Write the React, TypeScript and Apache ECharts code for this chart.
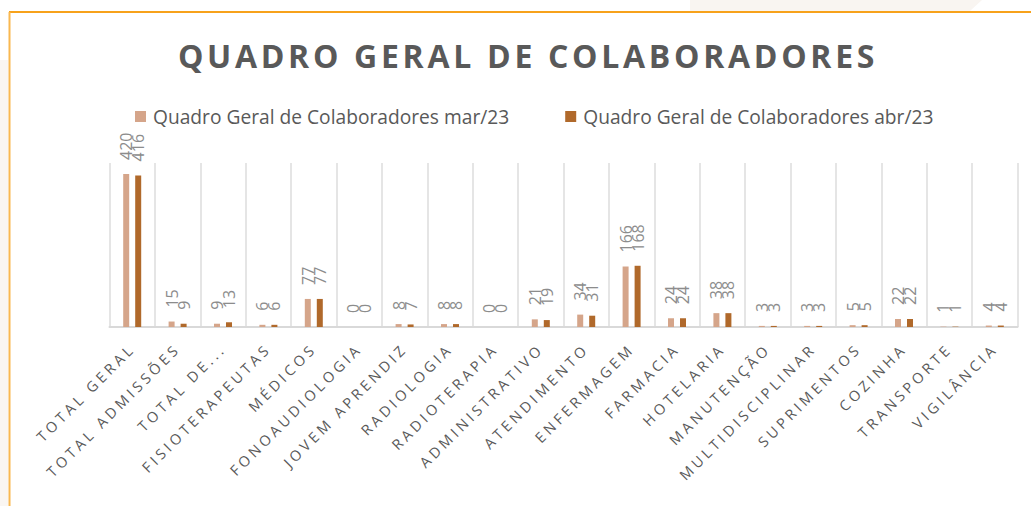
import React, { useEffect, useRef } from "react";
import * as echarts from "echarts";

const categories = [
  "TOTAL GERAL",
  "TOTAL ADMISSÕES",
  "TOTAL DE...",
  "FISIOTERAPEUTAS",
  "MÉDICOS",
  "FONOAUDIOLOGIA",
  "JOVEM APRENDIZ",
  "RADIOLOGIA",
  "RADIOTERAPIA",
  "ADMINISTRATIVO",
  "ATENDIMENTO",
  "ENFERMAGEM",
  "FARMACIA",
  "HOTELARIA",
  "MANUTENÇÃO",
  "MULTIDISCIPLINAR",
  "SUPRIMENTOS",
  "COZINHA",
  "TRANSPORTE",
  "VIGILÂNCIA",
];

const marValues = [420, 15, 9, 6, 77, 0, 8, 8, 0, 21, 34, 166, 24, 38, 3, 3, 5, 22, 1, 4];
const abrValues = [416, 9, 13, 6, 77, 0, 7, 8, 0, 19, 31, 168, 24, 38, 3, 3, 5, 22, 1, 4];

const seriesNames = [
  "Quadro Geral de Colaboradores mar/23",
  "Quadro Geral de Colaboradores abr/23",
];

const titleText = "QUADRO GERAL DE COLABORADORES";

export default function App() {
  const ref = useRef<HTMLDivElement>(null);

  useEffect(() => {
    if (!ref.current) return;
    const chart = echarts.init(ref.current, undefined, { renderer: "svg" });

    const labelStyle = {
      show: true,
      position: "top" as const,
      distance: 14,
      rotate: 90,
      align: "left" as const,
      verticalAlign: "middle" as const,
      fontSize: 16,
      fontFamily: "Open Sans",
      color: "#8c8c8c",
    };

    chart.setOption({
      animation: false,
      backgroundColor: "#ffffff",
      title: {
        text: titleText,
        left: 523,
        top: 34,
        textAlign: "center",
        textStyle: {
          fontFamily: "Open Sans",
          fontSize: 32,
          fontWeight: "bold",
          color: "#595959",
        },
      },
      legend: {
        top: 102,
        left: 130,
        itemWidth: 11,
        itemHeight: 11,
        itemGap: 56,
        icon: "rect",
        textStyle: {
          fontFamily: "Open Sans",
          fontSize: 19.2,
          color: "#595959",
          padding: [0, 0, 0, 2],
        },
        data: seriesNames,
      },
      graphic: [
        {
          type: "polygon",
          shape: { points: [[690, 0], [982, 0], [970, 11], [690, 11]] },
          style: { fill: "#f9f5f1" },
          silent: true,
        },
        {
          type: "rect",
          shape: { x: 0, y: 60, width: 8, height: 446 },
          style: { fill: "#faf6f2" },
          silent: true,
        },
        {
          type: "line",
          shape: { x1: 9, y1: 12, x2: 1031, y2: 12 },
          style: { stroke: "#f7a21b", lineWidth: 2 },
          silent: true,
        },
        {
          type: "line",
          shape: { x1: 9.5, y1: 12, x2: 9.5, y2: 506 },
          style: { stroke: "#f9b850", lineWidth: 2 },
          silent: true,
        },
      ],
      grid: {
        left: 109.5,
        right: 13.5,
        top: 163,
        bottom: 179,
        containLabel: false,
      },
      xAxis: {
        type: "category",
        data: categories,
        boundaryGap: true,
        axisLine: { show: true, lineStyle: { color: "#d9d9d9", width: 2 } },
        axisTick: { show: false },
        splitLine: { show: true, lineStyle: { color: "#dcdcdc", width: 1.5 } },
        axisLabel: {
          interval: 0,
          rotate: 45,
          margin: 19,
          fontFamily: "Open Sans",
          fontSize: 14.5,
          color: "#595959",
        },
      },
      yAxis: {
        type: "value",
        min: 0,
        max: 450,
        show: false,
        splitLine: { show: false },
      },
      series: [
        {
          name: seriesNames[0],
          type: "bar",
          data: marValues,
          barWidth: 6,
          barGap: "100%",
          itemStyle: { color: "#d5a58a" },
          label: labelStyle,
        },
        {
          name: seriesNames[1],
          type: "bar",
          data: abrValues,
          barWidth: 6,
          barGap: "100%",
          itemStyle: { color: "#b0692b" },
          label: labelStyle,
        },
      ],
    });

    return () => {
      chart.dispose();
    };
  }, []);

  return (
    <>
      <style>{`
        #qgc-chart text[style*="14.5px"] { letter-spacing: 3.6px; }
        #qgc-chart text[style*="32px"] { letter-spacing: 3.7px; }
      `}</style>
      <div
        id="qgc-chart"
        ref={ref}
        style={{ position: "absolute", left: 0, top: 0, width: 1031, height: 506 }}
      />
    </>
  );
}
